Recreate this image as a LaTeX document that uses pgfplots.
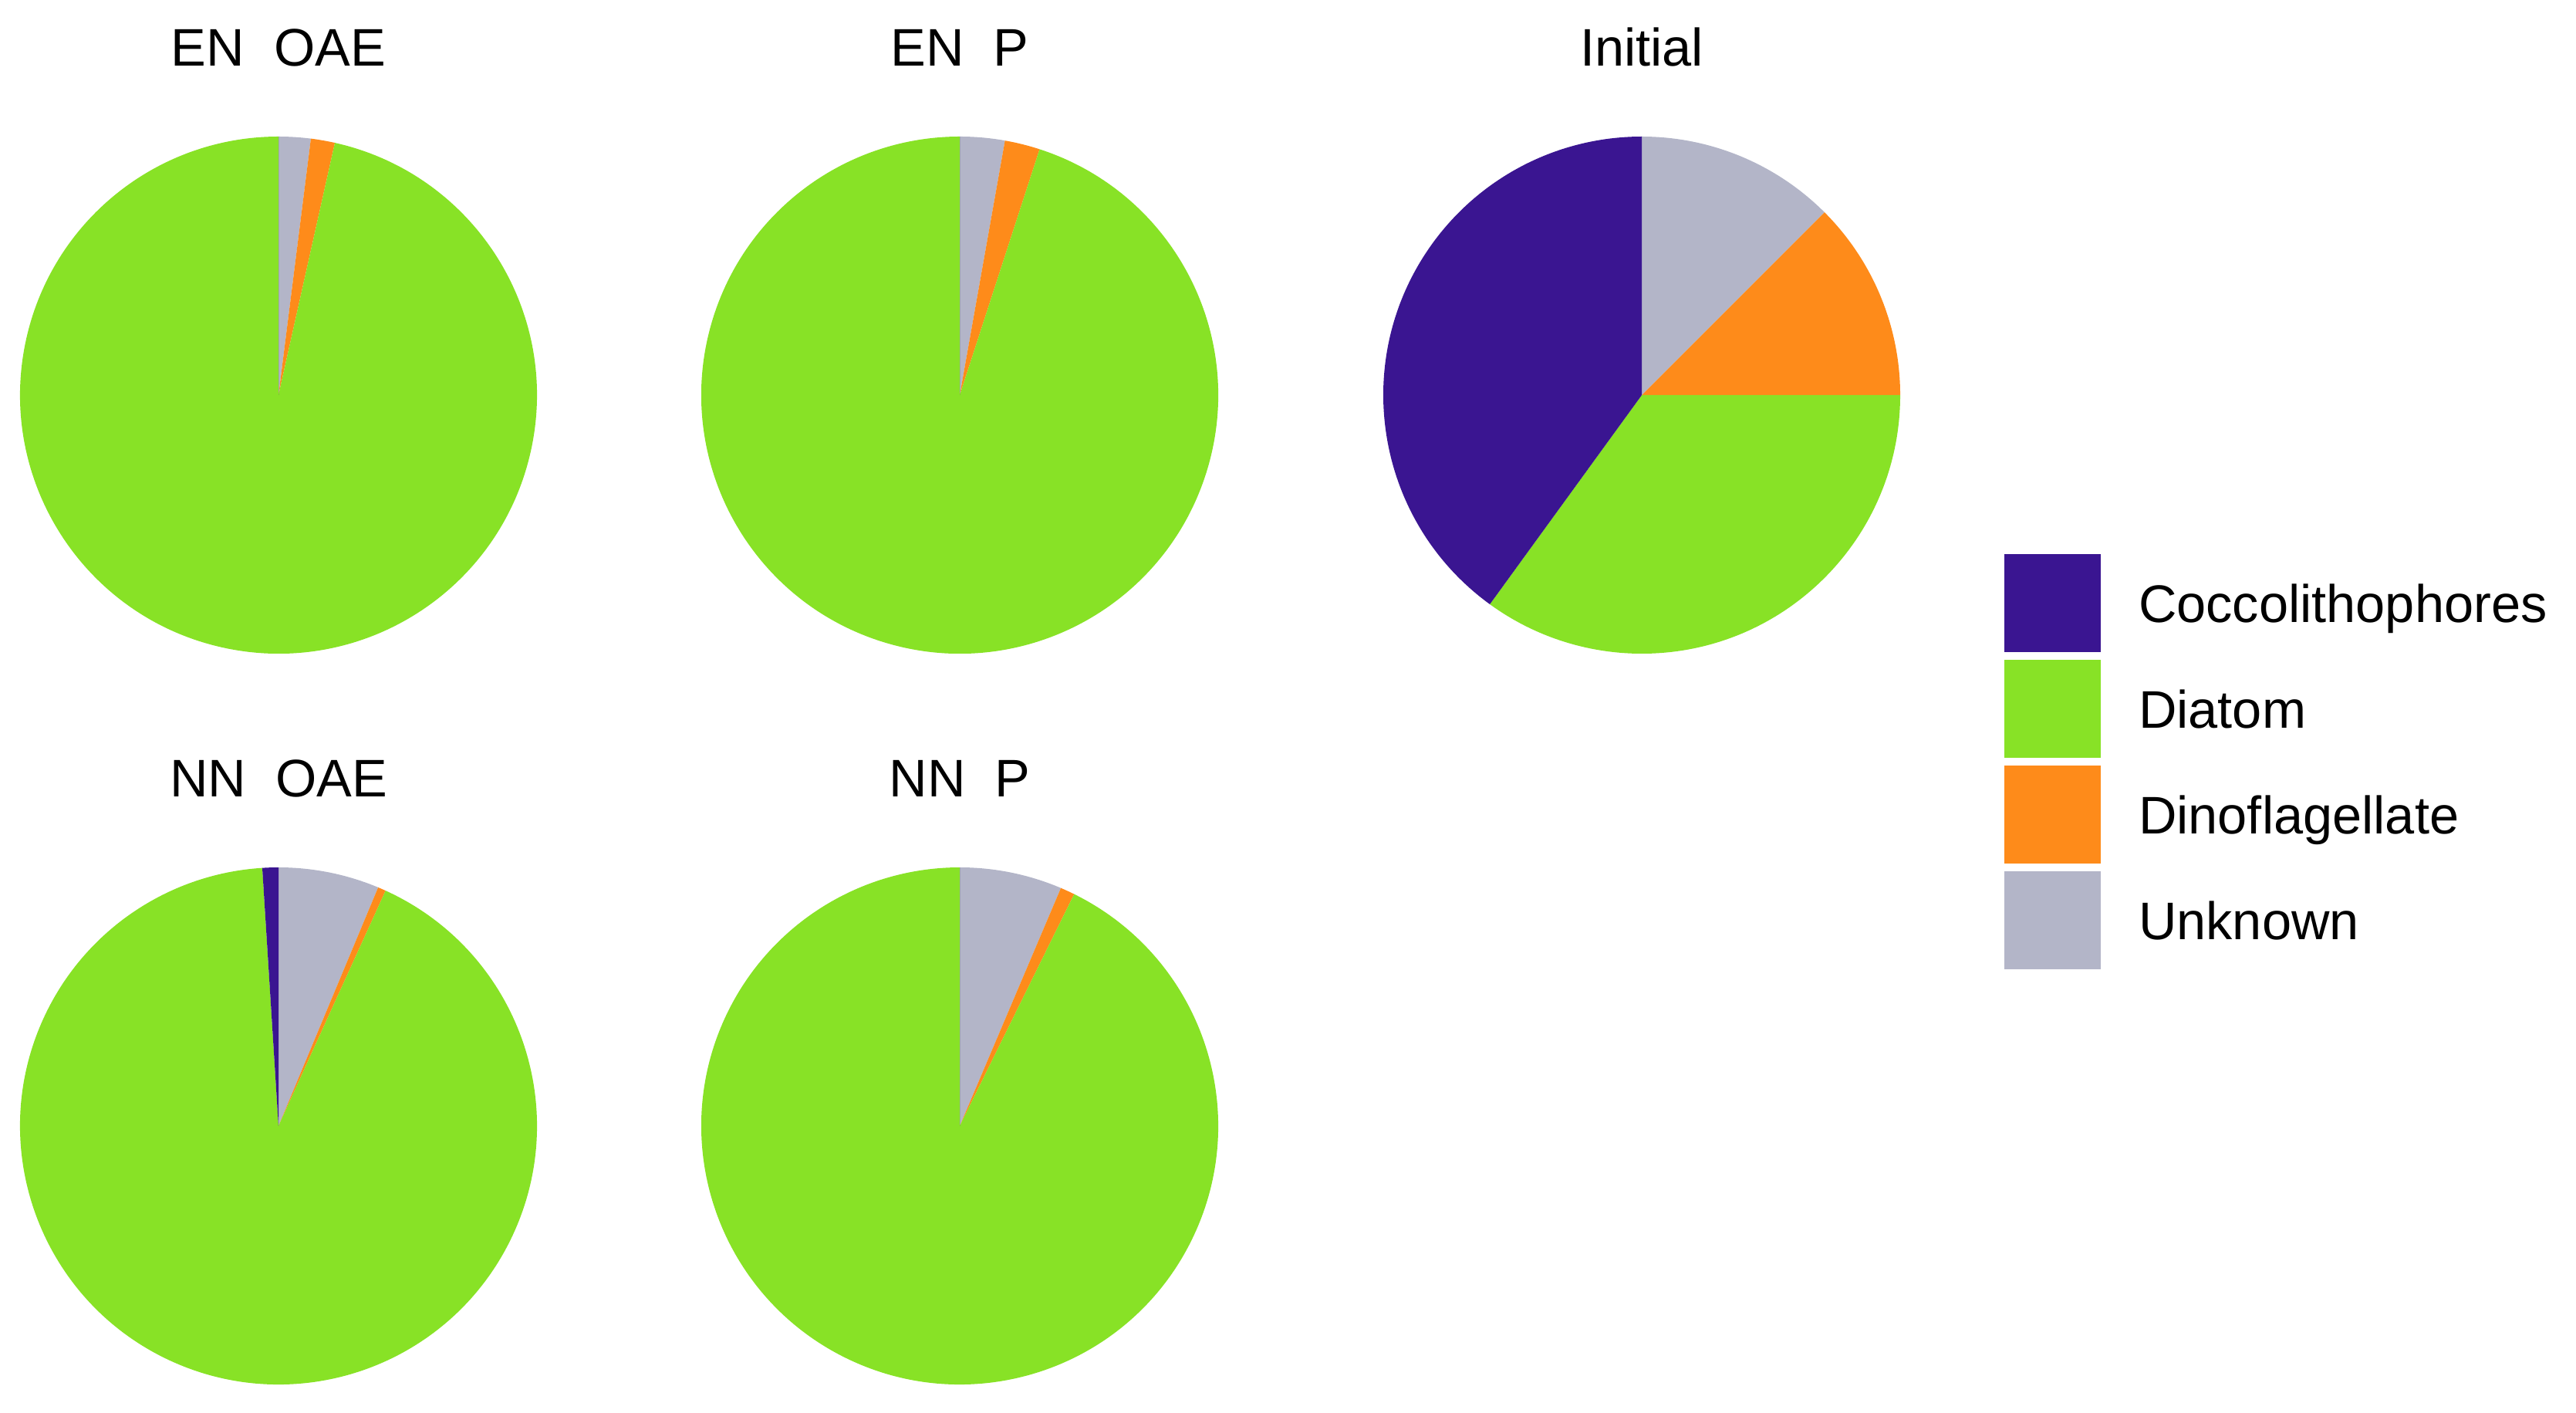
\documentclass[border=0pt]{standalone}
\usepackage{fontspec}
\setmainfont{Liberation Sans}
\usepackage{pgfplots}
\pgfplotsset{compat=1.18}

\definecolor{cocco}{HTML}{3A1591}
\definecolor{diatom}{HTML}{88E226}
\definecolor{dino}{HTML}{FE8B1A}
\definecolor{unk}{HTML}{B3B5C8}

% pie radius (= one axis unit)
\newcommand{\pieR}{1.675cm}

% one wedge, from #2 % to #3 %, clockwise from 12 o'clock
\newcommand{\slice}[3]{%
  \addplot[draw=none, fill=#1, forget plot] coordinates {(0,0)}
    -- ++({90-3.6*(#2)}:\pieR)
    arc[start angle={90-3.6*(#2)}, end angle={90-3.6*(#3)}, radius=\pieR]
    -- cycle;
}
% shares in %: Unknown, Dinoflagellate, Diatom, Coccolithophores
\newcommand{\pieslices}[4]{%
  \slice{unk}{0}{#1}
  \slice{dino}{#1}{#1+#2}
  \slice{diatom}{#1+#2}{#1+#2+#3}
  \slice{cocco}{#1+#2+#3}{#1+#2+#3+#4}
}

\pgfplotsset{
  pie/.style={
    hide axis,
    x=\pieR, y=\pieR,
    xmin=-1, xmax=1, ymin=-1, ymax=1,
    anchor=center,
    every axis title/.style={at={(0.5,1)}, anchor=base, yshift=0.455cm},
  },
}

\begin{document}
\fontsize{9.75pt}{11.7pt}\selectfont
\begin{tikzpicture}
\path[use as bounding box] (0,0) rectangle (16.695,9.15);

\begin{axis}[pie, at={(1.805cm,6.59cm)}, title={EN\ \ OAE}]
  \pieslices{2.0}{1.5}{96.5}{0}
\end{axis}

\begin{axis}[pie, at={(6.22cm,6.59cm)}, title={EN\ \ P}]
  \pieslices{2.8}{2.2}{95.0}{0}
\end{axis}

\begin{axis}[pie, at={(10.64cm,6.59cm)}, title={Initial},
    legend image code/.code={\fill[#1, draw=none] (0cm,-0.3175cm) rectangle (0.625cm,0.3175cm);},
    legend cell align=left,
    legend style={at={(1.2015,0.1925)}, anchor=north west,
      draw=none, fill=none, inner sep=0pt, outer sep=0pt,
      row sep=0.05cm, column sep=0.245cm,
      nodes={inner sep=0pt, text height=0.716em, text depth=0pt}},
  ]
  \pieslices{12.5}{12.5}{35.0}{40.0}
  \addlegendimage{fill=cocco}
  \addlegendentry{Coccolithophores}
  \addlegendimage{fill=diatom}
  \addlegendentry{Diatom}
  \addlegendimage{fill=dino}
  \addlegendentry{Dinoflagellate}
  \addlegendimage{fill=unk}
  \addlegendentry{Unknown}
\end{axis}

\begin{axis}[pie, at={(1.805cm,1.855cm)}, title={NN\ \ OAE}]
  \pieslices{6.3}{0.5}{92.2}{1.0}
\end{axis}

\begin{axis}[pie, at={(6.22cm,1.855cm)}, title={NN\ \ P}]
  \pieslices{6.4}{0.9}{92.7}{0}
\end{axis}
\end{tikzpicture}
\end{document}
